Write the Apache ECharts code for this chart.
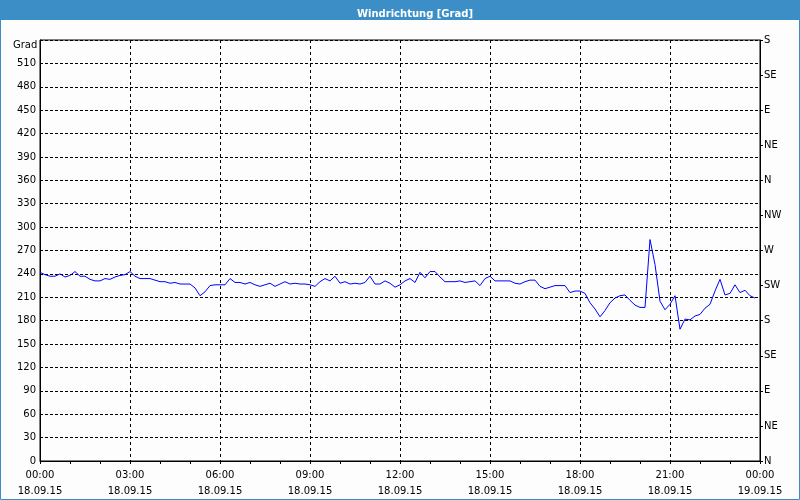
<!DOCTYPE html>
<html>
<head>
<meta charset="utf-8">
<script src="https://cdn.jsdelivr.net/npm/echarts@6/dist/echarts.min.js"></script>
<style>
  html, body { margin: 0; padding: 0; background: #fcfdfc; }
  #chart { width: 800px; height: 500px; }
</style>
</head>
<body>
<div id="chart"></div>
<script>
// ---- data ----
const chartTitle = 'Windrichtung [Grad]';
const yUnit = 'Grad';
const sampleStepMinutes = 10; // one reading every 10 minutes from 00:00
const windDirection = [
  242,239,237,237,240,236,238,243,237,237,
  233,231,231,234,233,236,238,239,243,237,
  234,234,234,232,230,230,228,229,227,227,
  227,222,212,217,225,226,226,226,234,229,
  229,227,229,226,224,226,228,224,227,230,
  227,228,227,227,226,224,230,234,231,237,
  228,230,227,228,227,229,237,227,227,231,
  228,223,226,231,234,229,242,235,243,243,
  236,230,230,230,231,229,230,231,225,234,
  237,231,231,231,231,228,227,230,232,232,
  224,221,223,225,225,225,216,218,218,215,
  203,195,185,193,203,209,212,213,206,200,
  197,197,284,252,205,194,201,212,169,182,
  181,186,188,196,201,218,233,213,215,226,
  216,219,212,209
];
const xTickLabels = [
  '00:00\n18.09.15', '03:00\n18.09.15', '06:00\n18.09.15', '09:00\n18.09.15',
  '12:00\n18.09.15', '15:00\n18.09.15', '18:00\n18.09.15', '21:00\n18.09.15',
  '00:00\n19.09.15'
];
const compassLabels = ['N','NE','E','SE','S','SW','W','NW','N','NE','E','SE','S'];

// ---- chart ----
const seriesData = windDirection.map((v, i) => [i * sampleStepMinutes, v]);
const FONT = 'DejaVu Sans';
const chart = echarts.init(document.getElementById('chart'), null, { renderer: 'canvas' });
chart.setOption({
  animation: false,
  backgroundColor: '#fcfdfc',
  title: {
    text: chartTitle,
    left: 352,
    top: 4,
    textStyle: { color: '#ffffff', fontFamily: FONT, fontSize: 10, fontWeight: 'bold' }
  },
  graphic: [
    { type: 'rect', z: -10, shape: { x: 0, y: 0, width: 800, height: 20 }, style: { fill: '#3c8fc6' } },
    { type: 'rect', z: -10, shape: { x: 0.5, y: 0.5, width: 799, height: 499 }, style: { fill: 'none', stroke: '#3c8fc6', lineWidth: 1 } },
    { type: 'text', left: 13, top: 40, style: { text: yUnit, fill: '#000', font: '10px "DejaVu Sans"' } }
  ],
  grid: { left: 40, right: 40, top: 40, bottom: 39, show: true, borderColor: '#000', borderWidth: 1, backgroundColor: 'transparent' },
  xAxis: {
    type: 'value', min: 0, max: 1440, interval: 180,
    axisLine: { show: true, lineStyle: { color: '#000', width: 1 } },
    axisTick: { show: true, length: 3, lineStyle: { color: '#000' } },
    minorTick: { show: true, splitNumber: 3, length: 3, lineStyle: { color: '#000' } },
    splitLine: { show: true, lineStyle: { color: '#000', type: [3, 3], width: 1 } },
    axisLabel: {
      color: '#000', fontFamily: FONT, fontSize: 10, lineHeight: 16, margin: 6,
      showMinLabel: true, showMaxLabel: true, hideOverlap: false,
      formatter: (v) => xTickLabels[Math.round(v / 180)] || ''
    }
  },
  yAxis: [
    {
      type: 'value', min: 0, max: 540, interval: 30, position: 'left',
      axisLine: { show: true, lineStyle: { color: '#000' } },
      axisTick: { show: false },
      splitLine: { show: true, lineStyle: { color: '#000', type: [3, 2], width: 1 } },
      axisLabel: {
        color: '#000', fontFamily: FONT, fontSize: 10, margin: 4,
        formatter: (v) => (v >= 540 ? '' : String(v))
      }
    },
    {
      type: 'value', min: 0, max: 540, interval: 45, position: 'right',
      axisLine: { show: true, lineStyle: { color: '#000' } },
      axisTick: { show: true, length: 3, lineStyle: { color: '#000' } },
      splitLine: { show: false },
      axisLabel: {
        color: '#000', fontFamily: FONT, fontSize: 10, margin: 4,
        padding: [5, 0, 0, 0],
        showMinLabel: true, showMaxLabel: true,
        formatter: (v) => compassLabels[Math.round(v / 45)] || ''
      }
    }
  ],
  series: [{
    type: 'line',
    data: seriesData,
    yAxisIndex: 0,
    showSymbol: false,
    symbol: 'none',
    lineStyle: { color: '#0000ff', width: 1 },
    silent: true
  }]
});
</script>
</body>
</html>
